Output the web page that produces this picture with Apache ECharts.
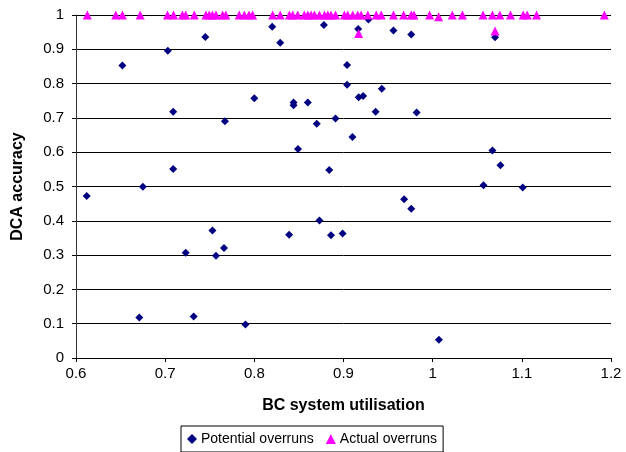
<!DOCTYPE html>
<html lang="en">
<head>
    <meta charset="UTF-8">
    <title>DCA accuracy</title>
    <style>
        html,body{
            height: 100%;
        }
        body{
            margin: 0;
            padding: 0;
            background: #fff;
        }
        #chart{
            width: 626px;
            height: 452px;
        }
    </style>
</head>
<body>
    <div id="chart"></div>
</body>
</html>
<script src="https://cdn.jsdelivr.net/npm/echarts@6/dist/echarts.min.js"></script>
<script>
    // potential overruns (x = utilisation, y = accuracy)
    var potentialX = [0.612, 0.652, 0.703, 0.709, 0.709, 0.675, 0.767, 0.800, 0.829, 0.844, 0.844, 0.860, 0.849, 0.870, 0.891, 0.884,
        0.745, 0.820, 0.878, 0.9165, 0.928, 0.956, 0.976, 1.070,
        0.904, 0.904, 0.917, 0.922, 0.943, 0.936, 0.982, 0.910, 1.067, 1.076, 1.057, 1.101, 0.968, 0.976,
        0.886, 0.899, 1.007, 0.671, 0.732, 0.790, 0.723, 0.753, 0.757, 0.766, 0.839, 0.873];
    var potentialY = [0.472, 0.853, 0.896, 0.718, 0.551, 0.499, 0.690, 0.757, 0.919, 0.745, 0.737, 0.745, 0.609, 0.683, 0.698, 0.548,
        0.936, 0.966, 0.971, 0.959, 0.987, 0.955, 0.943, 0.935,
        0.854, 0.797, 0.760, 0.764, 0.785, 0.718, 0.716, 0.644, 0.605, 0.562, 0.504, 0.497, 0.463, 0.435,
        0.358, 0.363, 0.053, 0.118, 0.121, 0.098, 0.307, 0.372, 0.298, 0.321, 0.359, 0.401];

    // actual overruns
    var actualX = [0.6127, 0.6446, 0.652, 0.672, 0.7026, 0.7094, 0.7194, 0.723, 0.7326, 0.7457, 0.7494, 0.753, 0.757, 0.7644, 0.768,
        0.783, 0.7888, 0.794, 0.798, 0.8206, 0.829, 0.8393, 0.843, 0.8487, 0.856, 0.86, 0.8637, 0.8674, 0.873, 0.8787,
        0.8824, 0.886, 0.891, 0.901, 0.9048, 0.9104, 0.916, 0.9198, 0.9273, 0.9367, 0.9423, 0.956, 0.9674, 0.976, 0.979,
        0.9966, 1.0067, 1.022, 1.0334, 1.0565, 1.067, 1.0753, 1.0873, 1.1015, 1.106, 1.1165, 1.1925, 0.917, 1.070];
    var actualY = [1, 1, 1, 1, 1, 1, 1, 1, 1, 1, 1, 1, 1, 1, 1,
        1, 1, 1, 1, 1, 1, 1, 1, 1, 1, 1, 1, 1, 1, 1,
        1, 1, 1, 1, 1, 1, 1, 1, 1, 1, 1, 1, 1, 1, 1,
        1, 0.995, 1, 1, 1, 1, 1, 1, 1, 1, 1, 1, 0.946, 0.953];

    function pairs(xs, ys) {
        return xs.map(function (x, i) { return [x, ys[i]]; });
    }

    var font = 'Liberation Sans, Arial, sans-serif';
    var myChart = echarts.init(document.getElementById('chart'));

    myChart.setOption({
        animation: false,
        textStyle: { fontFamily: font },
        grid: { left: 76, right: 15, top: 15, bottom: 94 },
        xAxis: {
            type: 'value',
            min: 0.6,
            max: 1.2,
            interval: 0.1,
            name: 'BC system utilisation',
            nameLocation: 'middle',
            nameGap: 40,
            nameTextStyle: { fontFamily: font, fontSize: 16, fontWeight: 'bold', color: '#000' },
            axisLine: { lineStyle: { color: '#000', width: 1 } },
            axisTick: { inside: false, length: 4, lineStyle: { color: '#000' } },
            axisLabel: { fontFamily: font, fontSize: 15, color: '#000', margin: 8 },
            splitLine: { show: false }
        },
        yAxis: {
            type: 'value',
            min: 0,
            max: 1,
            interval: 0.1,
            name: 'DCA accuracy',
            nameLocation: 'middle',
            nameGap: 50,
            nameTextStyle: { fontFamily: font, fontSize: 16, fontWeight: 'bold', color: '#000' },
            axisLine: { show: true, lineStyle: { color: '#333', width: 1 } },
            axisTick: { show: true, inside: false, length: 4, lineStyle: { color: '#000' } },
            axisLabel: { fontFamily: font, fontSize: 15, color: '#000', margin: 12 },
            splitLine: { show: true, lineStyle: { color: '#000', width: 1 } }
        },
        legend: {
            left: 181,
            top: 426,
            orient: 'horizontal',
            itemWidth: 10,
            itemHeight: 10,
            itemGap: 12,
            padding: [6, 6, 6, 6],
            borderColor: '#000',
            borderWidth: 1,
            backgroundColor: '#fff',
            textStyle: { fontFamily: font, fontSize: 14, color: '#000', padding: [0, 0, 0, -1] },
            data: [
                { name: 'Potential overruns', icon: 'diamond' },
                { name: 'Actual overruns', icon: 'triangle' }
            ]
        },
        series: [
            {
                name: 'Potential overruns',
                type: 'scatter',
                symbol: 'diamond',
                symbolSize: 8,
                itemStyle: { color: '#000080', opacity: 1 },
                data: pairs(potentialX, potentialY)
            },
            {
                name: 'Actual overruns',
                type: 'scatter',
                symbol: 'triangle',
                symbolSize: 9,
                itemStyle: { color: '#FF00FF', opacity: 1 },
                data: pairs(actualX, actualY)
            }
        ]
    });
</script>
